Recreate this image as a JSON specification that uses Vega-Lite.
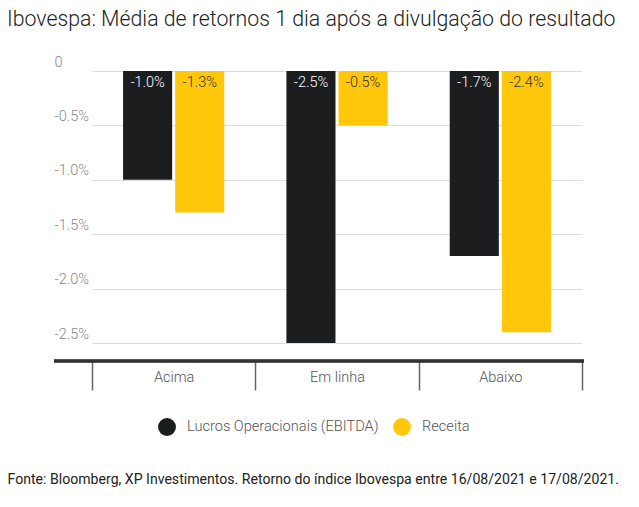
{
  "$schema": "https://vega.github.io/schema/vega-lite/v6.json",
  "width": 530,
  "height": 290,
  "autosize": {"type": "none"},
  "padding": {"left": 54, "top": 71, "right": 55, "bottom": 146},
  "background": "white",
  "config": {
    "font": "Roboto",
    "view": {"stroke": null},
    "locale": {"number": {"decimal": ".", "thousands": ",", "grouping": [3], "currency": ["$", ""], "minus": "-"}}
  },
  "title": {
    "text": "Ibovespa: Média de retornos 1 dia após a divulgação do resultado",
    "anchor": "start",
    "frame": "group",
    "dx": -47,
    "fontSize": 21.3,
    "fontWeight": 300,
    "color": "#222222",
    "offset": 24
  },
  "data": {
    "values": [
      {"categoria": "Acima", "serie": "Lucros Operacionais (EBITDA)", "valor": -0.010},
      {"categoria": "Acima", "serie": "Receita", "valor": -0.013},
      {"categoria": "Em linha", "serie": "Lucros Operacionais (EBITDA)", "valor": -0.025},
      {"categoria": "Em linha", "serie": "Receita", "valor": -0.005},
      {"categoria": "Abaixo", "serie": "Lucros Operacionais (EBITDA)", "valor": -0.017},
      {"categoria": "Abaixo", "serie": "Receita", "valor": -0.024}
    ]
  },
  "layer": [
    {
      "mark": {"type": "bar"},
      "encoding": {
        "x": {
          "field": "categoria",
          "type": "nominal",
          "sort": ["Acima", "Em linha", "Abaixo"],
          "scale": {"range": [38, 528], "paddingInner": 0, "paddingOuter": 0},
          "axis": {
            "title": "Fonte: Bloomberg, XP Investimentos. Retorno do índice Ibovespa entre 16/08/2021 e 17/08/2021.",
            "titleAnchor": "start",
            "titleAlign": "left",
            "titleX": -47,
            "titleY": 122,
            "titleBaseline": "alphabetic",
            "titleFontSize": 14.1,
            "titleFontWeight": "normal",
            "titleColor": "#222222",
            "domain": false,
            "ticks": true,
            "tickBand": "extent",
            "tickSize": 29,
            "tickColor": "#666666",
            "tickWidth": 1.5,
            "labelPadding": -20,
            "labelFontSize": 14.5,
            "labelFontWeight": 300,
            "labelColor": "#555555",
            "labelAngle": 0,
            "grid": false
          }
        },
        "xOffset": {
          "field": "serie",
          "type": "nominal",
          "scale": {"paddingInner": 0.058, "paddingOuter": 0.596}
        },
        "y": {
          "field": "valor",
          "type": "quantitative",
          "scale": {"domain": [-0.02665, 0], "nice": false, "zero": false},
          "axis": {
            "title": null,
            "values": [0, -0.005, -0.01, -0.015, -0.02, -0.025],
            "labelExpr": "datum.value == 0 ? '0' : format(datum.value, '.1%')",
            "domain": false,
            "ticks": false,
            "labelAlign": "left",
            "labelBaseline": "alphabetic",
            "labelPadding": 0,
            "labelOffset": -5,
            "labelFontSize": 14.5,
            "labelFontWeight": 300,
            "labelColor": "#888888",
            "grid": true,
            "gridColor": "#dddddd",
            "gridWidth": 1
          }
        },
        "y2": {"datum": 0},
        "color": {
          "field": "serie",
          "type": "nominal",
          "scale": {"domain": ["Lucros Operacionais (EBITDA)", "Receita"], "range": ["#1c1d1f", "#fec70a"]},
          "legend": {
            "title": null,
            "orient": "none",
            "direction": "horizontal",
            "legendX": 104,
            "legendY": 347,
            "symbolType": "circle",
            "symbolSize": 320,
            "symbolStrokeWidth": 0,
            "labelFontSize": 14.6,
            "labelFontWeight": 300,
            "labelColor": "#555555",
            "labelOffset": 11,
            "labelLimit": 400,
            "columnPadding": 14
          }
        }
      }
    },
    {
      "mark": {"type": "text", "baseline": "top", "dy": 5, "fontSize": 14.5, "fontWeight": 300},
      "encoding": {
        "x": {
          "field": "categoria",
          "type": "nominal",
          "sort": ["Acima", "Em linha", "Abaixo"]
        },
        "xOffset": {
          "field": "serie",
          "type": "nominal",
          "scale": {"paddingInner": 0.058, "paddingOuter": 0.596}
        },
        "y": {"datum": 0},
        "text": {"field": "valor", "type": "quantitative", "format": ".1%"},
        "color": {
          "field": "serie",
          "type": "nominal",
          "scale": {"domain": ["Lucros Operacionais (EBITDA)", "Receita"], "range": ["#ffffff", "#333333"]},
          "legend": null
        }
      }
    },
    {
      "mark": {"type": "rule", "color": "#333333", "strokeWidth": 2.5},
      "encoding": {"y": {"datum": -0.02665}}
    }
  ],
  "resolve": {"scale": {"color": "independent"}}
}
